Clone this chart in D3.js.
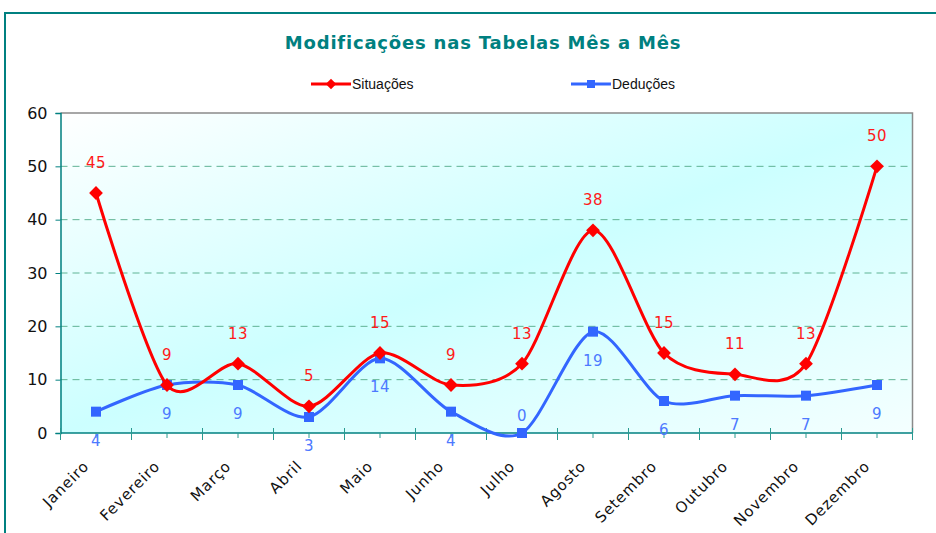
<!DOCTYPE html>
<html>
<head>
<meta charset="utf-8">
<script src="https://cdn.jsdelivr.net/npm/d3@7"></script>
<style>
  html, body { margin: 0; padding: 0; background: #fff; }
  svg { display: block; font-family: "DejaVu Sans", Verdana, sans-serif; }
</style>
</head>
<body>
<div id="chart"></div>
<script>
// --- Data ---
const months = ['Janeiro', 'Fevereiro', 'Março', 'Abril', 'Maio', 'Junho',
                'Julho', 'Agosto', 'Setembro', 'Outubro', 'Novembro', 'Dezembro'];
const situacoes = [45, 9, 13, 5, 15, 9, 13, 38, 15, 11, 13, 50];
const deducoes = [4, 9, 9, 3, 14, 4, 0, 19, 6, 7, 7, 9];
const yTicks = [0, 10, 20, 30, 40, 50, 60];

const W = 936, H = 533;
const plot = { left: 60.5, right: 912.5, top: 113, bottom: 433 };

const svg = d3.select('#chart').append('svg').attr('width', W).attr('height', H);

// --- Frame ---
svg.append('path')
    .attr('d', `M5,${H + 5} L5,13 L${W + 5},13`)
    .attr('fill', 'none').attr('stroke', '#008080').attr('stroke-width', 2);

// --- Title ---
svg.append('text')
    .attr('x', 483).attr('y', 49)
    .attr('text-anchor', 'middle')
    .attr('fill', '#008080')
    .attr('font-size', 18).attr('font-weight', 'bold')
    .attr('letter-spacing', 0.8)
    .text('Modificações nas Tabelas Mês a Mês');

// --- Scales ---
const x = d3.scaleBand().domain(months).range([plot.left, plot.right]).padding(0);
const cx = m => x(m) + x.bandwidth() / 2;
const y = d3.scaleLinear().domain([0, 60]).range([plot.bottom, plot.top]);

// --- Plot background ---
const defs = svg.append('defs');
const grad = defs.append('linearGradient').attr('id', 'bg')
    .attr('x1', 0).attr('y1', 0).attr('x2', 1).attr('y2', 1);
grad.append('stop').attr('offset', 0).attr('stop-color', '#ffffff');
grad.append('stop').attr('offset', 0.5).attr('stop-color', '#ccffff');
grad.append('stop').attr('offset', 1).attr('stop-color', '#f4ffff');

svg.append('rect')
    .attr('x', plot.left).attr('y', plot.top)
    .attr('width', plot.right - plot.left).attr('height', plot.bottom - plot.top)
    .attr('fill', 'url(#bg)');

// gray top/right border
svg.append('path')
    .attr('d', `M${plot.left},${plot.top} L${plot.right},${plot.top} L${plot.right},${plot.bottom}`)
    .attr('fill', 'none').attr('stroke', '#8a8a8a').attr('stroke-width', 1.5);

// --- Gridlines ---
svg.append('g').selectAll('line')
    .data(yTicks.filter(t => t > 0 && t < 60))
    .join('line')
    .attr('x1', plot.left).attr('x2', plot.right)
    .attr('y1', d => y(d)).attr('y2', d => y(d))
    .attr('stroke', '#5fb394').attr('stroke-width', 1)
    .attr('stroke-dasharray', '7,5');

// --- Y axis ---
const yAxis = svg.append('g')
    .attr('transform', `translate(${plot.left},0)`)
    .call(d3.axisLeft(y).tickValues(yTicks).tickSize(5).tickPadding(8));
yAxis.select('.domain').attr('stroke', '#008080').attr('stroke-width', 1.5);
yAxis.selectAll('.tick line').attr('stroke', '#008080');
yAxis.selectAll('.tick text')
    .attr('font-size', 16).attr('fill', '#111')
    .attr('font-family', '"DejaVu Sans", Verdana, sans-serif');

// --- X axis ---
const xAxisG = svg.append('g').attr('transform', `translate(0,${plot.bottom})`);
xAxisG.append('line')
    .attr('x1', plot.left).attr('x2', plot.right)
    .attr('stroke', '#008080').attr('stroke-width', 1.5);
// boundary ticks
const bounds = months.map(m => x(m)).concat([plot.right]);
xAxisG.selectAll('line.major').data(bounds).join('line').attr('class', 'major')
    .attr('x1', d => d).attr('x2', d => d).attr('y1', -5).attr('y2', 7)
    .attr('stroke', '#2a9a90').attr('stroke-width', 1);
xAxisG.selectAll('line.minor').data(months).join('line').attr('class', 'minor')
    .attr('x1', d => cx(d)).attr('x2', d => cx(d)).attr('y1', 0).attr('y2', 5)
    .attr('stroke', '#2a9a90').attr('stroke-width', 1);
xAxisG.selectAll('text').data(months).join('text')
    .attr('transform', d => `translate(${cx(d) - 6},${34}) rotate(-45)`)
    .attr('text-anchor', 'end')
    .attr('font-size', 15).attr('letter-spacing', 0.9).attr('fill', '#111')
    .text(d => d);

// --- Lines ---
const line = d3.line()
    .x((d, i) => cx(months[i]))
    .y(d => y(d))
    .curve(d3.curveCardinal.tension(0.15));

const series = [
    { name: 'Situações', values: situacoes, color: '#ff0000', label: '#ff1a1a', marker: 'diamond', pos: 'above' },
    { name: 'Deduções', values: deducoes, color: '#3366ff', label: '#4d79ff', marker: 'square', pos: 'below' }
];

// draw blue first, red on top
[series[1], series[0]].forEach(s => {
    const g = svg.append('g');
    g.append('path').datum(s.values)
        .attr('d', line)
        .attr('fill', 'none').attr('stroke', s.color).attr('stroke-width', 3);
    g.selectAll('path.mk').data(s.values).join('path').attr('class', 'mk')
        .attr('transform', (d, i) => `translate(${cx(months[i])},${y(d)})${s.marker === 'diamond' ? ' rotate(45)' : ''}`)
        .attr('d', d3.symbol().type(d3.symbolSquare).size(s.marker === 'diamond' ? 95 : 100))
        .attr('fill', s.color);
});

// --- Data labels ---
series.forEach(s => {
    svg.append('g').selectAll('text').data(s.values).join('text')
        .attr('x', (d, i) => cx(months[i]))
        .attr('y', d => {
            if (d === 0) return y(d) - 12;
            return s.pos === 'above' ? y(d) - 25 : y(d) + 34;
        })
        .attr('text-anchor', 'middle')
        .attr('font-size', 15).attr('letter-spacing', 0.5)
        .attr('fill', s.label)
        .text(d => d);
});

// --- Legend ---
const legend = svg.append('g').attr('font-family', '"Liberation Sans", Arial, sans-serif');
[{ s: series[0], x0: 311, tx: 352 }, { s: series[1], x0: 571, tx: 612 }].forEach(({ s, x0, tx }) => {
    legend.append('line')
        .attr('x1', x0).attr('x2', x0 + 40).attr('y1', 84).attr('y2', 84)
        .attr('stroke', s.color).attr('stroke-width', 3);
    legend.append('path')
        .attr('transform', `translate(${x0 + 20},84)${s.marker === 'diamond' ? ' rotate(45)' : ''}`)
        .attr('d', d3.symbol().type(d3.symbolSquare).size(s.marker === 'diamond' ? 55 : 64))
        .attr('fill', s.color);
    legend.append('text')
        .attr('x', tx).attr('y', 89)
        .attr('font-size', 14).attr('fill', '#111')
        .text(s.name);
});
</script>
</body>
</html>
